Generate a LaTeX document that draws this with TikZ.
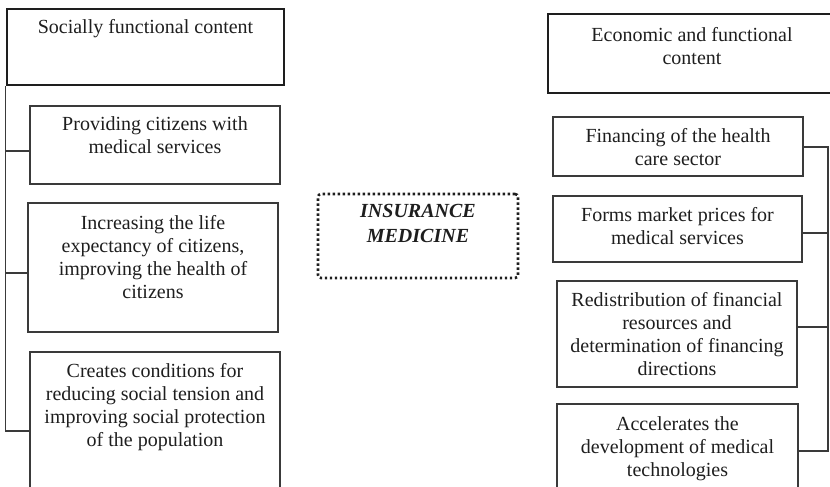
\documentclass[tikz,border=0pt]{standalone}
\usepackage{fontspec}
\setmainfont{Liberation Serif}
\definecolor{thinc}{HTML}{3A3A3A}
\definecolor{thickc}{HTML}{1E1E1E}
\definecolor{txtc}{HTML}{1E1E1E}
\begin{document}
\begin{tikzpicture}[x=1pt,y=-1pt,
  thinbox/.style={draw=thinc,line width=1.2pt,inner sep=0pt},
  thickbox/.style={draw=thickc,line width=2.6pt,inner sep=0pt},
  dotbox/.style={draw=thickc,line width=2.6pt,dash pattern=on 2.4pt off 2.6pt,rounded corners=3pt,inner sep=0pt},
  txt/.style={inner sep=0pt,align=center,text=txtc,font=\fontsize{20}{23}\selectfont,anchor=north},
  conn/.style={draw=thinc,line width=1.2pt}]
\useasboundingbox (0,0) rectangle (830,487);
\clip (0,0) rectangle (830,487);
% left column
\node[thickbox,minimum width=277,minimum height=76] (LT) at (145.5,47) {};
\node[txt,yshift=-12pt] (LTt) at (LT.north) {Socially functional content};
\node[thinbox,minimum width=250,minimum height=78] (L1) at (155,145) {};
\node[txt,yshift=-11pt] (L1t) at (L1.north) {Providing citizens with\\medical services};
\node[thinbox,minimum width=250,minimum height=129] (L2) at (153,267.5) {};
\node[txt,yshift=-13pt] (L2t) at (L2.north) {Increasing the life\\expectancy of citizens,\\improving the health of\\citizens};
\node[thinbox,minimum width=250,minimum height=148] (L3) at (155,426) {};
\node[txt,yshift=-12pt] (L3t) at (L3.north) {Creates conditions for\\reducing social tension and\\improving social protection\\of the population};
% centre
\node[dotbox,minimum width=200,minimum height=84] (C) at (418,236) {};
\node[txt,yshift=-11pt,font=\fontsize{20}{25}\selectfont\bfseries\itshape] (Ct) at (C.north) {INSURANCE\\MEDICINE};
% right column
\node[thickbox,minimum width=288,minimum height=79] (RT) at (692,53.5) {};
\node[txt,yshift=-15pt] (RTt) at (RT.north) {Economic and functional\\content};
\node[thinbox,minimum width=250,minimum height=59] (R1) at (678,146.5) {};
\node[txt,yshift=-12pt] (R1t) at (R1.north) {Financing of the health\\care sector};
\node[thinbox,minimum width=249,minimum height=66] (R2) at (677.5,229) {};
\node[txt,yshift=-12pt] (R2t) at (R2.north) {Forms market prices for\\medical services};
\node[thinbox,minimum width=240,minimum height=106] (R3) at (677,334) {};
\node[txt,yshift=-12pt] (R3t) at (R3.north) {Redistribution of financial\\resources and\\determination of financing\\directions};
\node[thinbox,minimum width=241,minimum height=96] (R4) at (677.5,452) {};
\node[txt,yshift=-13pt] (R4t) at (R4.north) {Accelerates the\\development of medical\\technologies};
% connector points
\coordinate (l1p) at ([yshift=-6pt]L1.west);
\coordinate (l2p) at ([yshift=-5.5pt]L2.west);
\coordinate (l3p) at ([yshift=-5pt]L3.west);
\coordinate (RS) at (828,0);
\coordinate (r1p) at ([yshift=-0.5pt]R1.east);
\coordinate (r2p) at ([yshift=-4pt]R2.east);
\coordinate (r3p) at ([yshift=7pt]R3.east);
\coordinate (r4p) at ([yshift=1pt]R4.east);
% left connectors
\draw[conn] (LT.south west) -- (LT.south west |- l3p) -- (l3p);
\draw[conn] (l1p) -- (l1p -| LT.south west);
\draw[conn] (l2p) -- (l2p -| LT.south west);
% right connectors
\draw[conn] (r1p) -- (r1p -| RS) -- (r4p -| RS) -- (r4p);
\draw[conn] (r2p) -- (r2p -| RS);
\draw[conn] (r3p) -- (r3p -| RS);
\end{tikzpicture}
\end{document}
